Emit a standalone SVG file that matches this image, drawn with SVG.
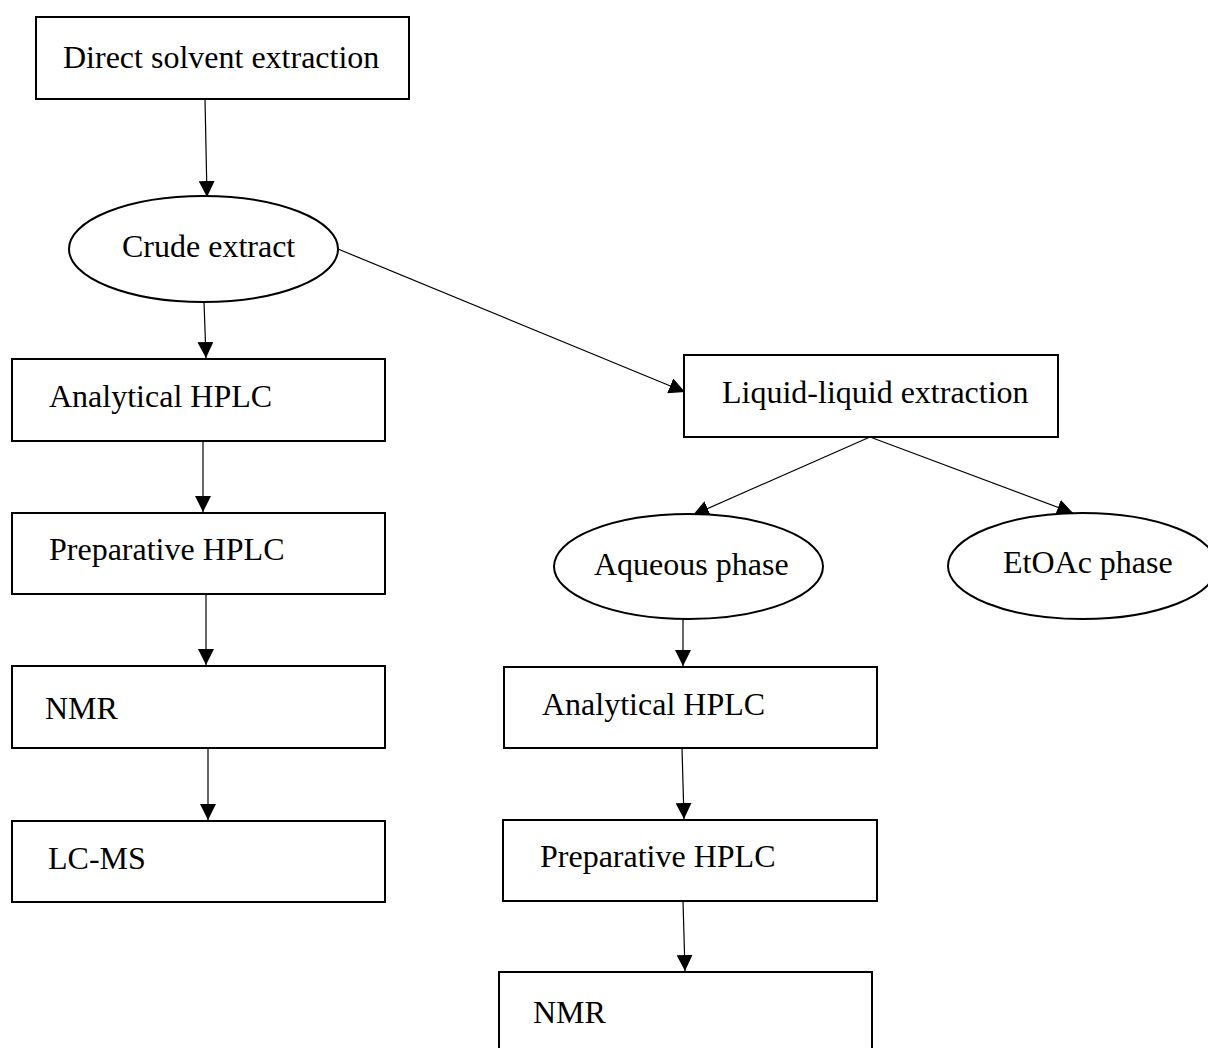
<svg xmlns="http://www.w3.org/2000/svg" width="1208" height="1048" viewBox="0 0 1208 1048">
<style>
.box{fill:#fff;stroke:#000;stroke-width:2}
.ell{fill:#fff;stroke:#000;stroke-width:2}
.lbl{font-family:"Liberation Serif","Times New Roman",serif;font-size:32px;fill:#000}
.edge{stroke:#000;stroke-width:1.2;fill:none;marker-end:url(#ah)}
</style>
<defs>
<marker id="ah" markerUnits="userSpaceOnUse" markerWidth="16" markerHeight="16" viewBox="0 0 15 15" refX="15" refY="7.5" orient="auto">
<path d="M0,0 L15,7.5 L0,15 z" fill="#000"/>
</marker>
</defs>
<rect width="1208" height="1048" fill="#fff"/>
<g id="connectors">
<line class="edge" x1="205" y1="99" x2="207" y2="197"/>
<line class="edge" x1="204" y1="302" x2="206" y2="358"/>
<line class="edge" x1="203" y1="441" x2="203" y2="512"/>
<line class="edge" x1="206" y1="594" x2="206" y2="665"/>
<line class="edge" x1="208" y1="748" x2="208" y2="820"/>
<line class="edge" x1="338" y1="249" x2="685" y2="392"/>
<line class="edge" x1="870" y1="437" x2="693" y2="515"/>
<line class="edge" x1="870" y1="437" x2="1073" y2="513"/>
<line class="edge" x1="683" y1="619" x2="683" y2="666"/>
<line class="edge" x1="682" y1="748" x2="684" y2="819"/>
<line class="edge" x1="683" y1="901" x2="685" y2="971"/>
</g>
<g id="direct">
<rect class="box" x="36" y="17" width="373" height="82"/>
<text class="lbl" x="63" y="68">Direct solvent extraction</text>
</g>
<g id="crude">
<ellipse class="ell" cx="203.5" cy="249" rx="134.5" ry="53"/>
<text class="lbl" x="122" y="257">Crude extract</text>
</g>
<g id="analytical-left">
<rect class="box" x="12" y="359" width="373" height="82"/>
<text class="lbl" x="49" y="407">Analytical HPLC</text>
</g>
<g id="preparative-left">
<rect class="box" x="12" y="513" width="373" height="81"/>
<text class="lbl" x="49" y="560">Preparative HPLC</text>
</g>
<g id="nmr-left">
<rect class="box" x="12" y="666" width="373" height="82"/>
<text class="lbl" x="45" y="719">NMR</text>
</g>
<g id="lcms-left">
<rect class="box" x="12" y="821" width="373" height="81"/>
<text class="lbl" x="48" y="869">LC-MS</text>
</g>
<g id="liquid">
<rect class="box" x="684" y="355" width="374" height="82"/>
<text class="lbl" x="722" y="403">Liquid-liquid extraction</text>
</g>
<g id="aqueous">
<ellipse class="ell" cx="688.5" cy="566.5" rx="134.5" ry="52.5"/>
<text class="lbl" x="594" y="575">Aqueous phase</text>
</g>
<g id="etoac">
<ellipse class="ell" cx="1082.5" cy="566" rx="134.5" ry="53"/>
<text class="lbl" x="1003" y="573">EtOAc phase</text>
</g>
<g id="analytical-right">
<rect class="box" x="504" y="667" width="373" height="81"/>
<text class="lbl" x="542" y="715">Analytical HPLC</text>
</g>
<g id="preparative-right">
<rect class="box" x="503" y="820" width="374" height="81"/>
<text class="lbl" x="540" y="867">Preparative HPLC</text>
</g>
<g id="nmr-right">
<rect class="box" x="499" y="972" width="373" height="84"/>
<text class="lbl" x="533" y="1023">NMR</text>
</g>
</svg>
